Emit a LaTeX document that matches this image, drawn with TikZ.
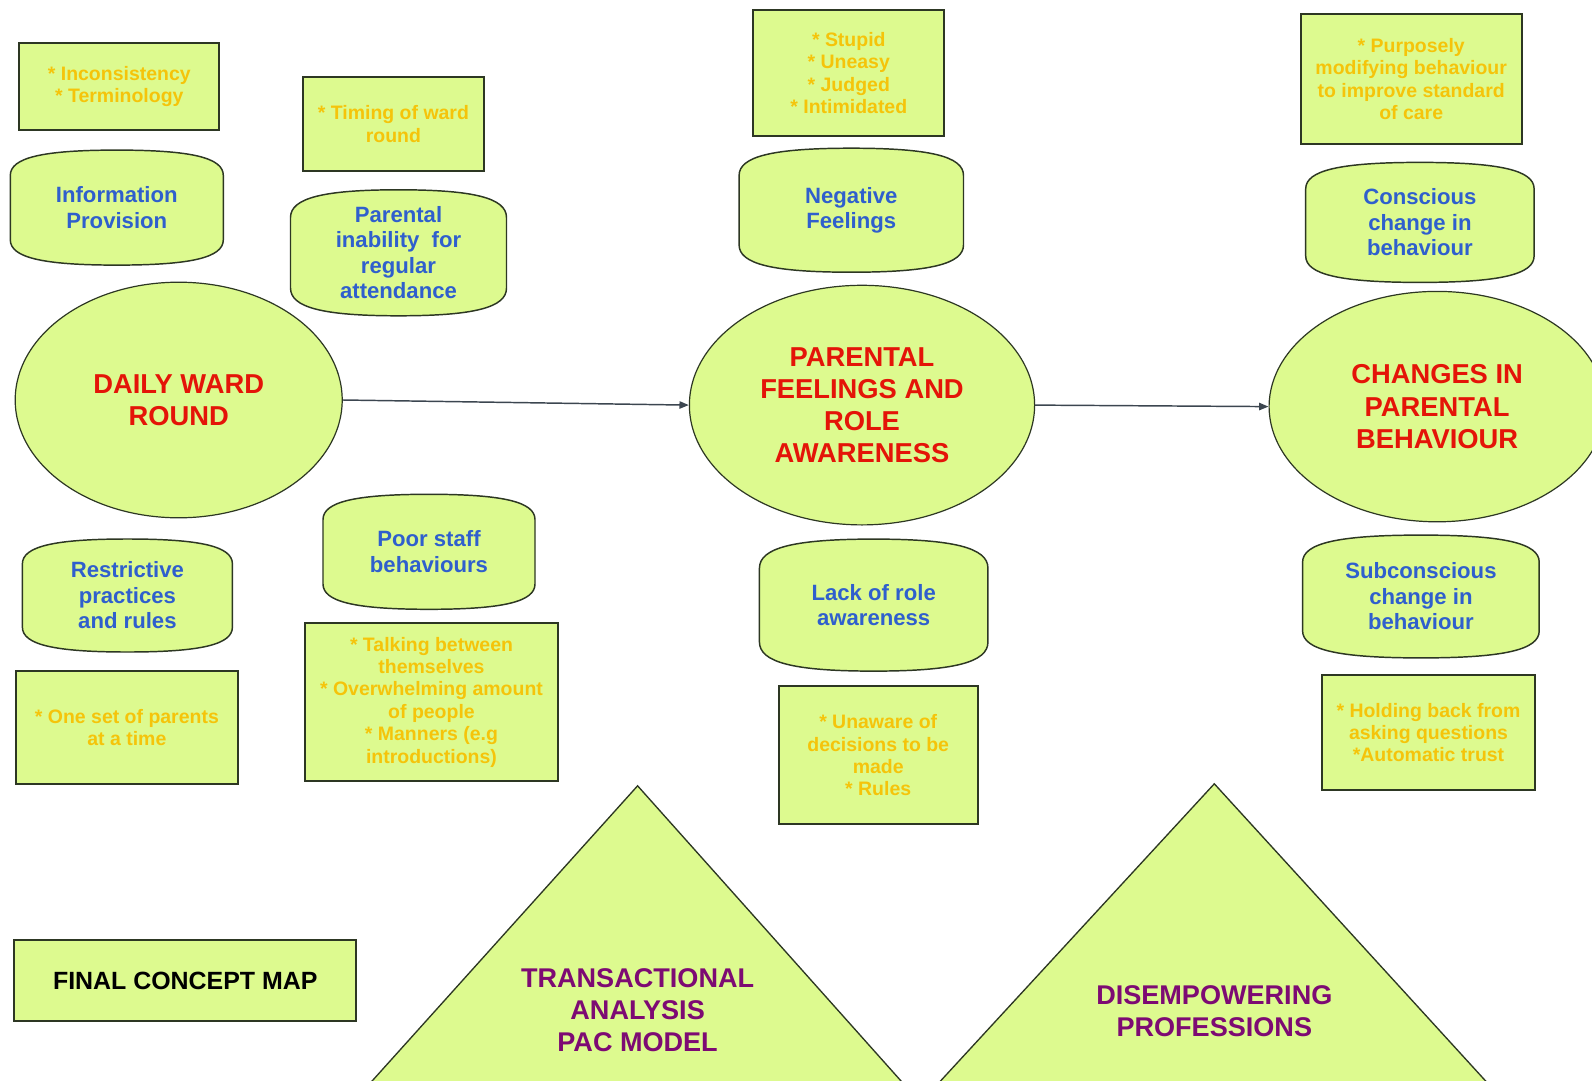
\documentclass[tikz,border=0pt]{standalone}
\usepackage{fontspec}
\setmainfont{Liberation Sans}
\usetikzlibrary{arrows.meta,shapes.geometric}

\definecolor{padfill}{RGB}{221,250,143}
\definecolor{edge}{RGB}{45,55,35}
\definecolor{topicblue}{RGB}{47,95,205}
\definecolor{themered}{RGB}{228,20,8}
\definecolor{notegold}{RGB}{245,196,10}
\definecolor{theoryplum}{RGB}{125,10,115}
\definecolor{linkgrey}{RGB}{60,70,80}

\tikzset{
  every node/.style={align=center, inner sep=0pt, font=\bfseries},
  notebox/.style={rectangle, draw=edge, line width=1.5pt, fill=padfill,
    text=notegold, font=\bfseries\fontsize{14.6}{16.8}\selectfont},
  pillowline/.style={draw=edge, line width=1.1pt, fill=padfill},
  topictext/.style={text=topicblue, font=\bfseries\fontsize{16.6}{19.1}\selectfont},
  theme/.style={ellipse, draw=edge, line width=0.9pt, fill=padfill,
    text=themered, font=\bfseries\fontsize{20.5}{24.1}\selectfont},
  theory/.style={draw=edge, line width=1pt, fill=padfill},
  theorytext/.style={text=theoryplum, font=\bfseries\fontsize{20.3}{24}\selectfont},
  titlebox/.style={rectangle, draw=edge, line width=1.5pt, fill=padfill,
    text=black, font=\bfseries\fontsize{18.7}{22}\selectfont},
  link/.style={draw=linkgrey, line width=1.1pt, -{Triangle[length=7pt,width=5.5pt]}}
}

% pillow-shaped topic: name, centre x, centre y, width, height, text
% vertical sides; top and bottom are squarish arcs of depth 0.22 h
\newcommand\pillownode[6]{%
  \path[pillowline]
    ({#2-#4/2},{#3-0.28*#5})
    .. controls ({#2-#4/2},{#3-0.434*#5}) and ({#2-0.35*#4},{#3-0.5*#5}) .. ({#2},{#3-0.5*#5})
    .. controls ({#2+0.35*#4},{#3-0.5*#5}) and ({#2+#4/2},{#3-0.434*#5}) .. ({#2+#4/2},{#3-0.28*#5})
    -- ({#2+#4/2},{#3+0.28*#5})
    .. controls ({#2+#4/2},{#3+0.434*#5}) and ({#2+0.35*#4},{#3+0.5*#5}) .. ({#2},{#3+0.5*#5})
    .. controls ({#2-0.35*#4},{#3+0.5*#5}) and ({#2-#4/2},{#3+0.434*#5}) .. ({#2-#4/2},{#3+0.28*#5})
    -- cycle;
  \node[topictext] (#1) at (#2,#3) {#6};
}

\begin{document}
\begin{tikzpicture}[x=0.75pt, y=-0.75pt]
\useasboundingbox (0,0) rectangle (1592,1081);
\fill[white] (0,0) rectangle (1592,1081);
\clip (0,0) rectangle (1592,1081);

% ---------- background theories (triangles) ----------
\path[theory] (637.6,785.8) -- (355,1100) -- (918,1100) -- cycle;
\node[theorytext] (pac) at (637.6,1009.7) {TRANSACTIONAL\\ANALYSIS\\PAC MODEL};
\path[theory] (1214.3,783.8) -- (923,1100) -- (1503,1100) -- cycle;
\node[theorytext] (disemp) at (1214.3,1010.7) {DISEMPOWERING\\PROFESSIONS};

% ---------- title ----------
\node[titlebox, minimum width=342*0.75pt, minimum height=81*0.75pt] (title) at (185.3,980.8) {FINAL CONCEPT MAP};

% ---------- main themes ----------
\node[theme, minimum width=327*0.75pt, minimum height=235.6*0.75pt] (daily) at (178.7,400) {DAILY WARD\\ROUND};
\node[theme, minimum width=345.2*0.75pt, minimum height=239.6*0.75pt] (feel) at (862,405.1) {PARENTAL\\FEELINGS AND\\ROLE\\AWARENESS};
\node[theme, minimum width=336*0.75pt, minimum height=230.4*0.75pt] (change) at (1437.1,406.6) {CHANGES IN\\PARENTAL\\BEHAVIOUR};

\draw[link] (daily.east) -- (feel.west);
\draw[link] (feel.east) -- (change.west);

% ---------- daily ward round: sub-topics ----------
\node[notebox, minimum width=200*0.75pt, minimum height=87.4*0.75pt] (noteinfo) at (119.3,86.3) {* Inconsistency\\* Terminology};
\pillownode{info}{116.8}{207.6}{213}{115}{Information\\Provision}
\node[notebox, minimum width=181.7*0.75pt, minimum height=93.4*0.75pt] (notetiming) at (393.4,123.9) {* Timing of ward\\round};
\pillownode{inability}{398.5}{252.8}{216}{126}{Parental\\inability\ \ for\\regular\\attendance}

\pillownode{restrict}{127.4}{595.5}{210}{113}{Restrictive\\practices\\and rules}
\node[notebox, minimum width=221.4*0.75pt, minimum height=112.7*0.75pt] (noterestrict) at (126.9,727.5) {* One set of parents\\at a time};
\pillownode{staff}{429}{551.8}{212}{115}{Poor staff\\behaviours}
\node[notebox, minimum width=253.8*0.75pt, minimum height=157.4*0.75pt] (notestaff) at (431.5,702.1) {* Talking between\\themselves\\* Overwhelming amount\\of people\\* Manners (e.g\\introductions)};

% ---------- parental feelings: sub-topics ----------
\node[notebox, minimum width=190.8*0.75pt, minimum height=125.9*0.75pt] (notefeel) at (848.8,73.1) {* Stupid\\* Uneasy\\* Judged\\* Intimidated};
\pillownode{negative}{851.3}{210.2}{224.4}{124}{Negative\\Feelings}
\pillownode{lackrole}{873.7}{605.1}{228.5}{132}{Lack of role\\awareness}
\node[notebox, minimum width=199*0.75pt, minimum height=138.1*0.75pt] (noterole) at (878.2,755.4) {* Unaware of\\decisions to be\\made\\* Rules};

% ---------- behaviour change: sub-topics ----------
\node[notebox, minimum width=221.3*0.75pt, minimum height=130*0.75pt] (noteconscious) at (1411.2,79.2) {* Purposely\\modifying behaviour\\to improve standard\\of care};
\pillownode{conscious}{1419.9}{222.4}{228.4}{120}{Conscious\\change in\\behaviour}
\pillownode{subconscious}{1420.9}{596.5}{236.6}{122.8}{Subconscious\\change in\\behaviour}
\node[notebox, minimum width=213.2*0.75pt, minimum height=114.7*0.75pt] (notesub) at (1428.5,732.6) {* Holding back from\\asking questions\\*Automatic trust};

\end{tikzpicture}
\end{document}
